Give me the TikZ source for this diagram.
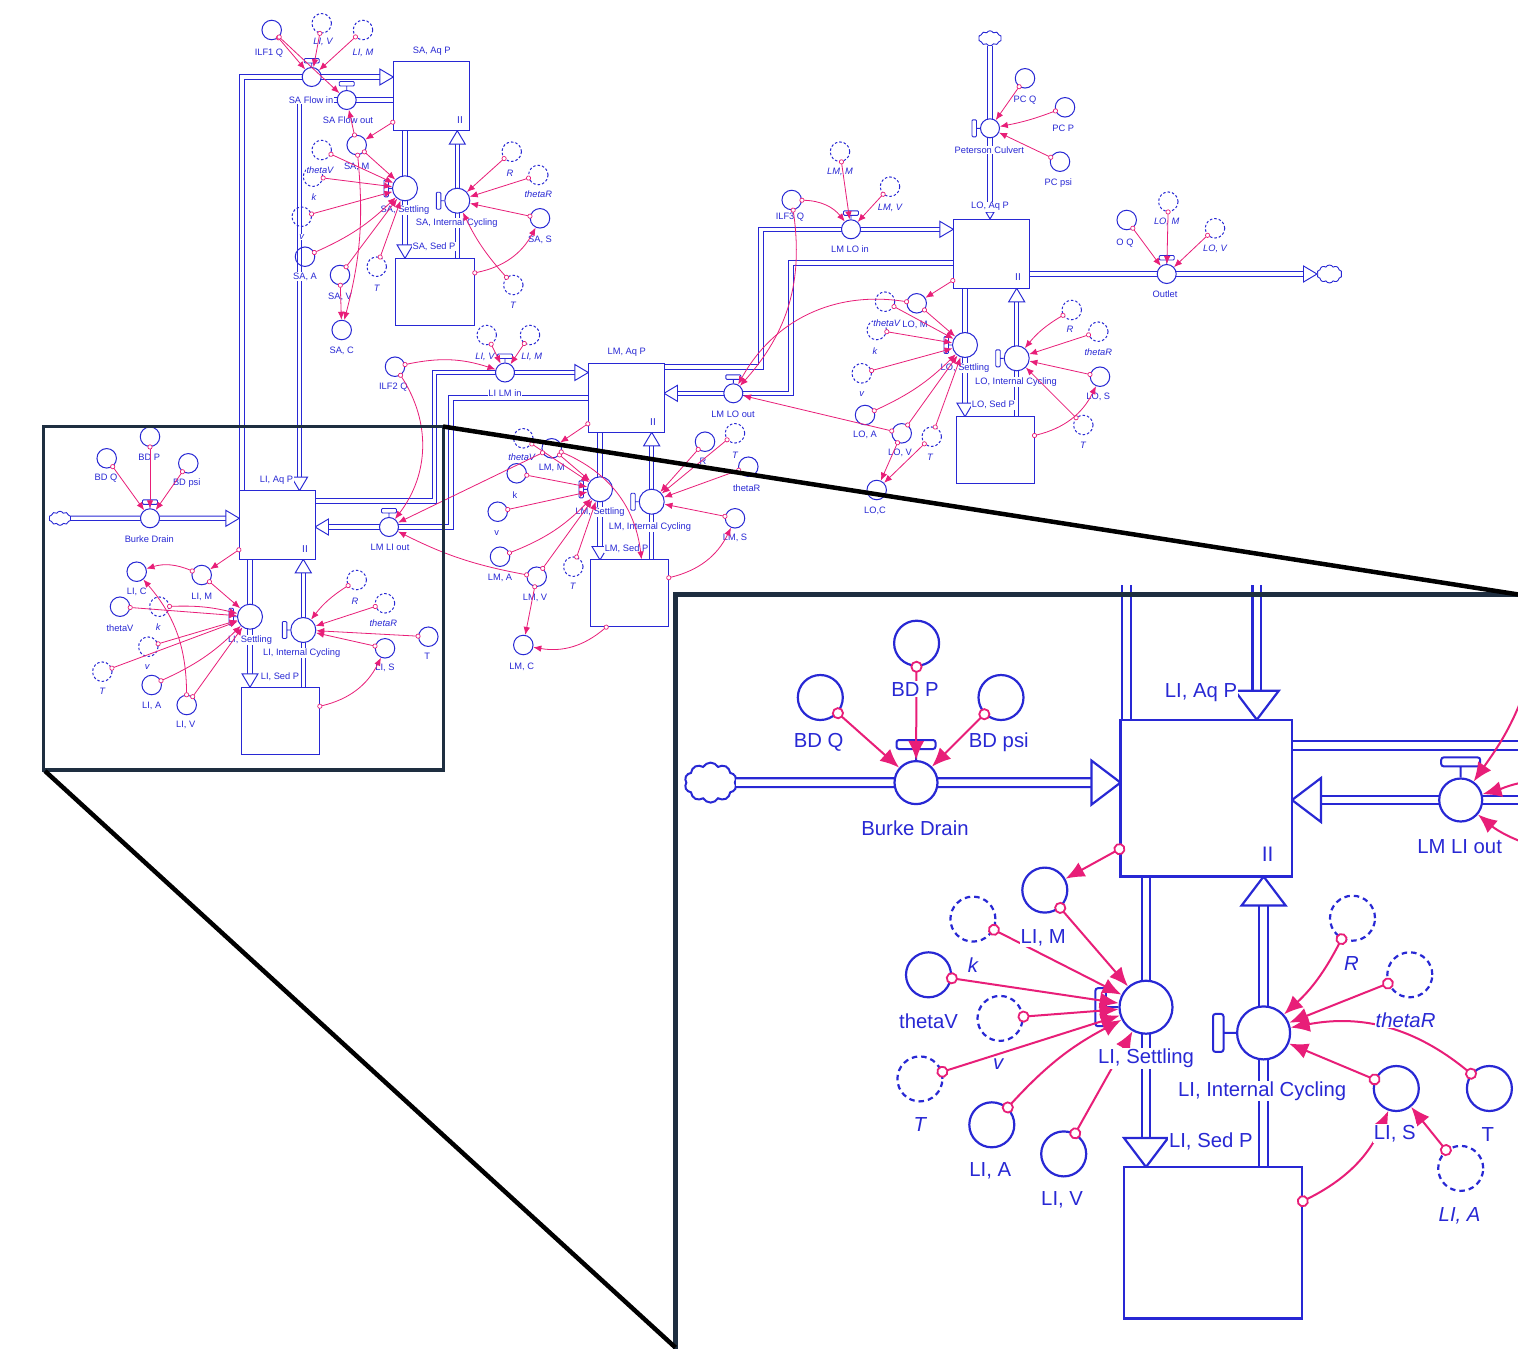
\documentclass[tikz,border=0pt]{standalone}
\usepackage{fontspec}
\setmainfont{Liberation Sans}
\usetikzlibrary{arrows.meta,shapes.symbols}
\definecolor{bl}{RGB}{40,40,212}
\definecolor{pk}{RGB}{232,30,120}
\definecolor{nv}{RGB}{30,46,64}
\newcommand\mkA[4]{\node[#1] (#2) at (#3,-#4) {};}
\newcommand\mkT[5]{\node[#1] (#2) at (#3,-#4) {#5};}
\newcommand\hTop[1]{\draw[hdl] (#1.north) -- ++(0,4) ++(-7.5,0) rectangle ++(15,4.5);}
\newcommand\hLeft[1]{\draw[hdl] (#1.west) -- ++(-3.5,0) ++(0,-8.5) rectangle ++(-4.5,17);}
\newcommand\hTopI[1]{\draw[hdlI] (#1.north) -- ++(0,11) ++(-19.5,0) rectangle ++(39,9);}
\newcommand\hLeftI[1]{\draw[hdlI] (#1.west) -- ++(-12.5,0) ++(0,-19) rectangle ++(-10.5,38);}
\tikzset{
 aux/.style={circle,draw=bl,line width=1pt,minimum size=19.5pt,inner sep=0pt},
 shd/.style={aux,dash pattern=on 2.5pt off 2pt},
 vlv/.style={circle,draw=bl,fill=white,line width=1pt,minimum size=19pt,inner sep=0pt},
 vlvb/.style={vlv,minimum size=25pt},
 stk/.style={rectangle,draw=bl,fill=white,line width=1pt,inner sep=0pt},
 hdl/.style={draw=bl,fill=white,line width=0.9pt,rounded corners=1pt},
 cld/.style={cloud,cloud puffs=10,cloud puff arc=120,cloud ignores aspect,draw=bl,fill=white,line width=0.9pt,inner sep=0pt},
 lab/.style={text=bl,fill=white,inner sep=0.6pt,font=\fontsize{9.3}{10}\selectfont},
 labi/.style={lab,font=\fontsize{9.3}{10}\selectfont\itshape},
 twoi/.style={text=bl,inner sep=0pt,font=\fontsize{10}{10}\selectfont},
 lk/.style={draw=pk,line width=0.8pt,arrows={Circle[fill=white,length=5pt,width=5pt,line width=0.7pt]-Latex[length=8pt,width=6.5pt]},shorten <=-2.5pt},
 pipe/.style={draw=bl,double=white,double distance=3.3pt,line width=0.95pt,line join=miter},
 parr/.pic={\draw[bl,fill=white,line width=0.95pt,line join=miter] (0,0) -- (-13.5,8) -- (-13.5,-8) -- cycle;},
 auxI/.style={circle,draw=bl,line width=2.2pt,minimum size=45pt,inner sep=0pt},
 shdI/.style={auxI,dash pattern=on 5.5pt off 4pt},
 vlvI/.style={circle,draw=bl,fill=white,line width=2.2pt,minimum size=43pt,inner sep=0pt},
 vlvbI/.style={vlvI,minimum size=53pt},
 stkI/.style={rectangle,draw=bl,fill=white,line width=2.2pt,inner sep=0pt},
 hdlI/.style={draw=bl,fill=white,line width=2pt,rounded corners=2.5pt},
 cldI/.style={cloud,cloud puffs=10,cloud puff arc=120,cloud ignores aspect,draw=bl,fill=white,line width=2pt,inner sep=0pt,minimum width=52pt,minimum height=40pt},
 labI/.style={text=bl,fill=white,inner sep=1pt,font=\fontsize{20.3}{22}\selectfont},
 labiI/.style={labI,font=\fontsize{20.3}{22}\selectfont\itshape},
 twoiI/.style={text=bl,inner sep=0pt,font=\fontsize{21}{21}\selectfont},
 lkI/.style={draw=pk,line width=2pt,arrows={Circle[fill=white,length=12pt,width=12pt,line width=1.8pt]-Latex[length=19pt,width=16pt]},shorten <=-6pt},
 lkIn/.style={draw=pk,line width=2pt,arrows={-Latex[length=19pt,width=16pt]}},
 pipeI/.style={draw=bl,double=white,double distance=6.5pt,line width=2.2pt,line join=miter},
 parrI/.pic={\draw[bl,fill=white,line width=2.2pt,line join=miter] (0,0) -- (-29,22) -- (-29,-22) -- cycle;},
}
\begin{document}
\begin{tikzpicture}[x=1pt,y=1pt]
\useasboundingbox (0,0) rectangle (1518,-1349);
\fill[white] (0,0) rectangle (1518,-1349);
\clip (0,0) rectangle (1518,-1349);

% ================= MAIN DIAGRAM =================
\node[cld,minimum width=22pt,minimum height=14pt] (cl1) at (60,-518.3) {};
\node[cld,minimum width=23pt,minimum height=15pt] (cl2) at (990,-38.3) {};
\node[cld,minimum width=25pt,minimum height=18pt] (cl3) at (1329.5,-274) {};

\draw[pipe] (cl1.east) -- (225.8,-518.3);
\pic at (239.3,-518.3) {parr};
\draw[pipe] (242,-490.7) -- (242,-77) -- (379.8,-77);
\pic at (393.3,-77) {parr};
\draw[pipe] (393.3,-100) -- (299.5,-100) -- (299.5,-477.2);
\pic[rotate=-90] at (299.5,-490.7) {parr};
\draw[pipe] (315,-501) -- (434.5,-501) -- (434.5,-372.5) -- (574.8,-372.5);
\pic at (588.3,-372.5) {parr};
\draw[pipe] (588.3,-398) -- (451,-398) -- (451,-527) -- (328.5,-527);
\pic[rotate=180] at (315,-527) {parr};
\draw[pipe] (664,-367) -- (761,-367) -- (761,-229.3) -- (939.8,-229.3);
\pic at (953.3,-229.3) {parr};
\draw[pipe] (953.3,-263) -- (791,-263) -- (791,-393.3) -- (677.5,-393.3);
\pic[rotate=180] at (664,-393.3) {parr};
\draw[pipe] (405,-130.7) -- (405,-244.8);
\pic[rotate=-90] at (405,-258.3) {parr};
\draw[pipe] (600,-432.3) -- (600,-546.5);
\pic[rotate=-90] at (600,-560) {parr};
\draw[pipe] (965,-288.3) -- (965,-403.2);
\pic[rotate=-90] at (965,-416.7) {parr};
\draw[pipe] (250,-559.3) -- (250,-673.8);
\pic[rotate=-90] at (250,-687.3) {parr};
\draw[pipe] (457.3,-258.3) -- (457.3,-144.2);
\pic[rotate=90] at (457.3,-130.7) {parr};
\draw[pipe] (651.7,-560) -- (651.7,-445.8);
\pic[rotate=90] at (651.7,-432.3) {parr};
\draw[pipe] (1016.7,-416.7) -- (1016.7,-301.8);
\pic[rotate=90] at (1016.7,-288.3) {parr};
\draw[pipe] (303.3,-687.3) -- (303.3,-572.8);
\pic[rotate=90] at (303.3,-559.3) {parr};
\draw[pipe] (cl2.south) -- (990,-212.5);
\pic[rotate=-90,scale=0.5] at (990,-219) {parr};
\draw[pipe] (1029.3,-274) -- (1303.5,-274);
\pic at (1317,-274) {parr};

\node[stk,minimum width=76pt,minimum height=69pt] (saAq) at (431.3,-96.2) {};
\node[stk,minimum width=78.6pt,minimum height=66.7pt] (saSed) at (435,-291.7) {};
\node[stk,minimum width=75.7pt,minimum height=69pt] (lmAq) at (626.2,-397.8) {};
\node[stk,minimum width=77.6pt,minimum height=66.7pt] (lmSed) at (629.5,-593.3) {};
\node[stk,minimum width=76pt,minimum height=69.3pt] (loAq) at (991.3,-253.7) {};
\node[stk,minimum width=78pt,minimum height=66.6pt] (loSed) at (995,-450) {};
\node[stk,minimum width=75.7pt,minimum height=68.6pt] (liAq) at (277.2,-525) {};
\node[stk,minimum width=78.3pt,minimum height=66.7pt] (liSed) at (280.2,-720.7) {};
\mkT{twoi}{saII}{460}{120}{II}
\mkT{twoi}{lmII}{653}{421.7}{II}
\mkT{twoi}{loII}{1018}{276.7}{II}
\mkT{twoi}{liII}{305}{549.3}{II}

\node[vlv] (saIn) at (311.7,-77) {}; \hTop{saIn}
\node[vlv] (saOut) at (346.7,-100) {}; \hTop{saOut}
\node[vlvb] (saSet) at (405,-188.3) {}; \hLeft{saSet}
\node[vlvb] (saIC) at (457.3,-200.7) {}; \hLeft{saIC}
\node[vlv] (lilmin) at (505,-372.5) {}; \hTop{lilmin}
\node[vlv] (lmloout) at (733.3,-393.3) {}; \hTop{lmloout}
\node[vlv] (lmliout) at (389,-527) {}; \hTop{lmliout}
\node[vlvb] (lmSet) at (600,-489.3) {}; \hLeft{lmSet}
\node[vlvb] (lmIC) at (651.7,-501.7) {}; \hLeft{lmIC}
\node[vlv] (lmloin) at (851,-229.3) {}; \hTop{lmloin}
\node[vlvb] (loSet) at (965,-345) {}; \hLeft{loSet}
\node[vlvb] (loIC) at (1016.7,-358.3) {}; \hLeft{loIC}
\node[vlv] (pc) at (990,-128.3) {}; \hLeft{pc}
\node[vlv] (outlet) at (1166.7,-274) {}; \hTop{outlet}
\node[vlv] (bd) at (150,-518.3) {}; \hTop{bd}
\node[vlvb] (liSet) at (250,-616.7) {}; \hLeft{liSet}
\node[vlvb] (liIC) at (303.3,-630) {}; \hLeft{liIC}

\mkA{aux}{ilf1}{271.7}{30}
\mkA{shd}{saLIV}{321.7}{23.3}
\mkA{shd}{saLIM}{363}{30}
\mkA{aux}{saM}{356.7}{145}
\mkA{shd}{saThV}{321.7}{150}
\mkA{shd}{saK}{313}{176.7}
\mkA{shd}{saV}{301.7}{216.7}
\mkA{aux}{saA}{305}{256.7}
\mkA{aux}{saVv}{340}{275}
\mkA{aux}{saC}{341.7}{330}
\mkA{shd}{saT}{376.7}{266.7}
\mkA{shd}{saR}{511.7}{151.7}
\mkA{shd}{saThR}{538.3}{175}
\mkA{aux}{saS}{540}{218.3}
\mkA{shd}{saT2}{513.3}{285}
\mkA{aux}{ilf2}{395}{366.7}
\mkA{shd}{lmLIV}{486.7}{335}
\mkA{shd}{lmLIM}{530}{335}
\mkA{shd}{lmThV}{523.3}{438.3}
\mkA{aux}{lmM}{551.7}{448.3}
\mkA{aux}{lmK}{516.7}{473.3}
\mkA{aux}{lmV}{497.7}{511.7}
\mkA{aux}{lmA}{500}{556.7}
\mkA{aux}{lmVv}{536.7}{576.7}
\mkA{aux}{lmC}{523.3}{645}
\mkA{shd}{lmT}{573.3}{566.7}
\mkA{aux}{lmR}{705}{441.7}
\mkA{shd}{lmT2}{735}{433.3}
\mkA{aux}{lmThR}{748.3}{466.7}
\mkA{aux}{lmS}{735}{518.3}
\mkA{shd}{loLMM}{840}{151.7}
\mkA{aux}{ilf3}{791.7}{200}
\mkA{shd}{loLMV}{890}{186.7}
\mkA{aux}{loM}{916.7}{303.3}
\mkA{shd}{loThV}{885}{301.7}
\mkA{shd}{loK}{876.7}{330}
\mkA{shd}{loV}{861.7}{373.3}
\mkA{aux}{loA}{865}{415}
\mkA{aux}{loVv}{901.7}{433.3}
\mkA{shd}{loT}{931.7}{436.7}
\mkA{aux}{loC}{876.7}{490}
\mkA{shd}{loR}{1071.7}{310}
\mkA{shd}{loThR}{1098.3}{331.7}
\mkA{aux}{loS}{1100}{376.7}
\mkA{shd}{loT2}{1083.3}{425}
\mkA{aux}{pcQ}{1025}{78.3}
\mkA{aux}{pcP}{1065}{107.3}
\mkA{aux}{pcPsi}{1060}{161.7}
\mkA{aux}{oQ}{1126.7}{220}
\mkA{shd}{oLOM}{1168.3}{201.7}
\mkA{shd}{oLOV}{1215}{228.3}
\mkA{aux}{bdQ}{106.7}{458.3}
\mkA{aux}{bdP}{150}{436.7}
\mkA{aux}{bdPsi}{188.3}{463.3}
\mkA{aux}{liC}{136.7}{571.7}
\mkA{aux}{liM}{201.7}{575}
\mkA{aux}{liThV}{120}{606.7}
\mkA{shd}{liK}{159.3}{606.7}
\mkA{shd}{liV}{148.3}{646.7}
\mkA{shd}{liT}{102.3}{671.7}
\mkA{aux}{liA}{151.7}{685}
\mkA{aux}{liVv}{186.7}{705}
\mkA{shd}{liR}{356.7}{580}
\mkA{shd}{liThR}{385}{603.3}
\mkA{aux}{liT2}{428.3}{636.7}
\mkA{aux}{liS}{385}{648.3}

\mkT{lab}{ilf1t}{269}{52.7}{ILF1 Q}
\mkT{labi}{saLIVt}{323}{41.7}{LI, V}
\mkT{labi}{saLIMt}{363}{52.7}{LI, M}
\mkT{lab}{saMt}{356.7}{166.7}{SA, M}
\mkT{labi}{saThVt}{320}{170}{thetaV}
\mkT{labi}{saKt}{314}{197}{k}
\mkT{labi}{saVt}{301.7}{236.7}{v}
\mkT{lab}{saAt}{305}{276.7}{SA, A}
\mkT{lab}{saVvt}{340}{296.7}{SA, V}
\mkT{lab}{saCt}{341.7}{351}{SA, C}
\mkT{labi}{saTt}{376.7}{288}{T}
\mkT{labi}{saRt}{510}{173}{R}
\mkT{labi}{saThRt}{538.3}{194}{thetaR}
\mkT{lab}{saSt}{540}{240}{SA, S}
\mkT{labi}{saT2t}{513}{305}{T}
\mkT{lab}{saAqt}{431.7}{51}{SA, Aq P}
\mkT{lab}{saSedt}{434}{246.7}{SA, Sed P}
\mkT{lab}{saInt}{311}{100}{SA Flow in}
\mkT{lab}{saOutt}{348}{120}{SA Flow out}
\mkT{lab}{saSett}{405}{210}{SA, Settling}
\mkT{lab}{saICt}{456.7}{223.3}{SA, Internal Cycling}
\mkT{lab}{ilf2t}{393.3}{386.7}{ILF2 Q}
\mkT{labi}{lmLIVt}{485}{356.7}{LI, V}
\mkT{labi}{lmLIMt}{531.7}{356.7}{LI, M}
\mkT{labi}{lmThVt}{521.7}{457.3}{thetaV}
\mkT{lab}{lmMt}{551.7}{468.3}{LM, M}
\mkT{lab}{lmKt}{515}{495}{k}
\mkT{lab}{lmVt}{496.7}{532.7}{v}
\mkT{lab}{lmAt}{500}{578.3}{LM, A}
\mkT{lab}{lmVvt}{535}{598.3}{LM, V}
\mkT{lab}{lmCt}{521.7}{666.7}{LM, C}
\mkT{labi}{lmTt}{572.7}{586.7}{T}
\mkT{lab}{lmRt}{703}{461.7}{R}
\mkT{labi}{lmT2t}{735}{455}{T}
\mkT{lab}{lmThRt}{746.7}{488.3}{thetaR}
\mkT{lab}{lmSt}{735}{538.3}{LM, S}
\mkT{lab}{lmAqt}{626.7}{352.3}{LM, Aq P}
\mkT{lab}{lmSedt}{626.5}{548.3}{LM, Sed P}
\mkT{lab}{lilmint}{505}{393.3}{LI LM in}
\mkT{lab}{lmlooutt}{733}{414}{LM LO out}
\mkT{lab}{lmlioutt}{390}{547.7}{LM LI out}
\mkT{lab}{lmSett}{600}{511.7}{LM, Settling}
\mkT{lab}{lmICt}{650}{526.7}{LM, Internal Cycling}
\mkT{labi}{loLMMt}{840}{172.3}{LM, M}
\mkT{lab}{ilf3t}{790}{216.7}{ILF3 Q}
\mkT{labi}{loLMVt}{890}{207.7}{LM, V}
\mkT{lab}{loMt}{915}{325}{LO, M}
\mkT{labi}{loThVt}{886.7}{322.7}{thetaV}
\mkT{labi}{loKt}{875}{350.7}{k}
\mkT{labi}{loVt}{861.7}{394.3}{v}
\mkT{lab}{loAt}{865}{435}{LO, A}
\mkT{lab}{loVvt}{900}{453.3}{LO, V}
\mkT{labi}{loTt}{930}{457.3}{T}
\mkT{lab}{loCt}{875}{511}{LO,C}
\mkT{labi}{loRt}{1070}{329.3}{R}
\mkT{labi}{loThRt}{1098.3}{351.7}{thetaR}
\mkT{lab}{loSt}{1098.3}{396.7}{LO, S}
\mkT{labi}{loT2t}{1083}{445}{T}
\mkT{lab}{pcQt}{1025}{100}{PC Q}
\mkT{lab}{pcPt}{1063.3}{128.3}{PC P}
\mkT{lab}{pcPsit}{1058.3}{182.7}{PC psi}
\mkT{lab}{oQt}{1125}{242.7}{O Q}
\mkT{labi}{oLOMt}{1166.7}{221.7}{LO, M}
\mkT{labi}{oLOVt}{1215}{249.3}{LO, V}
\mkT{lab}{loAqt}{990}{206.7}{LO, Aq P}
\mkT{lab}{loSedt}{993.3}{405}{LO, Sed P}
\mkT{lab}{lmloint}{850}{249.3}{LM LO in}
\mkT{lab}{loSett}{965}{368.3}{LO, Settling}
\mkT{lab}{loICt}{1016}{381.7}{LO, Internal Cycling}
\mkT{lab}{pct}{989.3}{150}{Peterson Culvert}
\mkT{lab}{outlett}{1165}{294}{Outlet}
\mkT{lab}{bdQt}{106}{477.7}{BD Q}
\mkT{lab}{bdPt}{149.3}{457.3}{BD P}
\mkT{lab}{bdPsit}{186.7}{483.3}{BD psi}
\mkT{lab}{liCt}{136.7}{591.7}{LI, C}
\mkT{lab}{liMt}{201.7}{596.7}{LI, M}
\mkT{lab}{liThVt}{120}{628.3}{thetaV}
\mkT{labi}{liKt}{158.3}{626.7}{k}
\mkT{labi}{liVt}{147.3}{666.7}{v}
\mkT{labi}{liTt}{102.3}{691.7}{T}
\mkT{lab}{liAt}{151.7}{706}{LI, A}
\mkT{lab}{liVvt}{185.7}{725}{LI, V}
\mkT{labi}{liRt}{355}{601}{R}
\mkT{labi}{liThRt}{383.3}{623.3}{thetaR}
\mkT{lab}{liT2t}{427.3}{656.7}{T}
\mkT{lab}{liSt}{385}{668.3}{LI, S}
\mkT{lab}{liAqt}{276.5}{480}{LI, Aq P}
\mkT{lab}{liSedt}{280}{676.7}{LI, Sed P}
\mkT{lab}{bdt}{149.3}{538.7}{Burke Drain}
\mkT{lab}{liSett}{250}{640}{LI, Settling}
\mkT{lab}{liICt}{301.7}{653.3}{LI, Internal Cycling}

\draw[lk] (ilf1) -- (saIn);
\draw[lk] (saLIV) -- (saIn);
\draw[lk] (saLIM) -- (saIn);
\draw[lk] (ilf1) -- (saOut);
\draw[lk] (saM) -- (saOut);
\draw[lk] ([yshift=9pt]saAq.south west) -- (saM);
\draw[lk] (saM) -- (saSet);
\draw[lk] (saThV) -- (saSet);
\draw[lk] (saK) -- (saSet);
\draw[lk] (saV) -- (saSet);
\draw[lk] (saA) to[bend right=10] (saSet);
\draw[lk] (saVv) -- (saSet);
\draw[lk] (saT) -- (saSet);
\draw[lk] (saVv) -- (saC);
\draw[lk] (saM) to[bend left=10] (saC);
\draw[lk] (saR) -- (saIC);
\draw[lk] (saThR) -- (saIC);
\draw[lk] (saS) -- (saIC);
\draw[lk] (saT2) to[bend left=8] (saIC);
\draw[lk] ([yshift=-15pt]saSed.north east) to[bend right=25] (saS);
\draw[lk] (ilf2) to[bend left=15] (lilmin);
\draw[lk] (lmLIV) -- (lilmin);
\draw[lk] (lmLIM) -- (lilmin);
\draw[lk] (ilf2) to[bend left=35] (lmliout);
\draw[lk] ([yshift=9pt]lmAq.south west) -- (lmM);
\draw[lk] (lmM) -- (lmSet);
\draw[lk] (lmThV) -- (lmSet);
\draw[lk] (lmK) -- (lmSet);
\draw[lk] (lmV) -- (lmSet);
\draw[lk] (lmA) to[bend right=12] (lmSet);
\draw[lk] (lmVv) -- (lmSet);
\draw[lk] (lmT) -- (lmSet);
\draw[lk] (lmM) -- (lmliout);
\draw[lk] (lmVv) to[bend left=8] (lmliout);
\draw[lk] (lmVv) -- (lmC);
\draw[lk] ([xshift=16pt]lmSed.south west) to[bend left=25] (lmC);
\draw[lk] (lmM) to[bend left=30] ([xshift=12pt]lmSed.north);
\draw[lk] (lmR) -- (lmIC);
\draw[lk] (lmT2) -- (lmIC);
\draw[lk] (lmThR) -- (lmIC);
\draw[lk] (lmS) -- (lmIC);
\draw[lk] ([yshift=-18.3pt]lmSed.north east) to[bend right=25] (lmS);
\draw[lk] (loLMM) -- (lmloin);
\draw[lk] (loLMV) -- (lmloin);
\draw[lk] (ilf3) to[bend left=25] (lmloin);
\draw[lk] (ilf3) to[bend left=25] (lmloout);
\draw[lk] (loM) to[bend right=35] (lmloout);
\draw[lk] (loVv) -- (lmloout);
\draw[lk] ([yshift=8.3pt]loAq.south west) -- (loM);
\draw[lk] (loM) -- (loSet);
\draw[lk] (loThV) -- (loSet);
\draw[lk] (loK) -- (loSet);
\draw[lk] (loV) -- (loSet);
\draw[lk] (loA) to[bend right=10] (loSet);
\draw[lk] (loVv) -- (loSet);
\draw[lk] (loT) -- (loSet);
\draw[lk] (loVv) -- (loC);
\draw[lk] (loT) -- (loC);
\draw[lk] (loR) to[bend right=10] (loIC);
\draw[lk] (loThR) -- (loIC);
\draw[lk] (loS) -- (loIC);
\draw[lk] (loT2) -- (loIC);
\draw[lk] ([yshift=-19.3pt]loSed.north east) to[bend right=25] (loS);
\draw[lk] (pcQ) -- (pc);
\draw[lk] (pcP) to[bend left=5] (pc);
\draw[lk] (pcPsi) -- (pc);
\draw[lk] (oQ) -- (outlet);
\draw[lk] (oLOM) -- (outlet);
\draw[lk] (oLOV) -- (outlet);
\draw[lk] (bdQ) -- (bd);
\draw[lk] (bdP) -- (bd);
\draw[lk] (bdPsi) -- (bd);
\draw[lk] ([yshift=10pt]liAq.south west) -- (liM);
\draw[lk] (liM) to[bend right=20] (liC);
\draw[lk] (liVv) to[bend right=20] (liC);
\draw[lk] (liM) -- (liSet);
\draw[lk] (liThV) -- (liSet);
\draw[lk] (liK) to[bend left=8] (liSet);
\draw[lk] (liV) -- (liSet);
\draw[lk] (liT) -- (liSet);
\draw[lk] (liA) to[bend right=10] (liSet);
\draw[lk] (liVv) -- (liSet);
\draw[lk] (liR) to[bend right=10] (liIC);
\draw[lk] (liThR) -- (liIC);
\draw[lk] (liT2) -- (liIC);
\draw[lk] (liS) -- (liIC);
\draw[lk] ([yshift=-19.4pt]liSed.north east) to[bend right=25] (liS);

% ================= INSET =================
\node[cldI] (cl4) at (710.6,-782.6) {};
\draw[pipeI] (cl4.east) -- (1091.5,-782.6);
\pic at (1120.5,-782.6) {parrI};
\draw[pipeI] (1126.4,-585) -- (1126.4,-719.7);
\draw[pipeI] (1256.8,-585) -- (1256.8,-690.7);
\pic[rotate=-90] at (1256.8,-719.7) {parrI};
\draw[pipeI] (1292,-745.5) -- (1530,-745.5);
\draw[pipeI] (1530,-800) -- (1321,-800);
\pic[rotate=180] at (1292,-800) {parrI};
\draw[pipeI] (1146,-876.5) -- (1146,-1138);
\pic[rotate=-90] at (1146,-1167) {parrI};
\draw[pipeI] (1263.6,-1167) -- (1263.6,-905.5);
\pic[rotate=90] at (1263.6,-876.5) {parrI};

\node[stkI,minimum width=171.5pt,minimum height=156.8pt] (liAqI) at (1206.25,-798.1) {};
\node[stkI,minimum width=177.4pt,minimum height=151.5pt] (liSedI) at (1213,-1242.75) {};
\mkT{twoiI}{liIII}{1267.6}{853.8}{II}

\node[vlvI] (bdI) at (916,-782.6) {}; \hTopI{bdI}
\node[vlvI] (lmlioutI) at (1460.7,-800) {}; \hTopI{lmlioutI}
\node[vlvbI] (liSetI) at (1146,-1007.2) {}; \hLeftI{liSetI}
\node[vlvbI] (liICI) at (1263.6,-1032.9) {}; \hLeftI{liICI}

\mkA{auxI}{bdQI}{820.3}{697.5}
\mkA{auxI}{bdPI}{916.6}{643.2}
\mkA{auxI}{bdPsiI}{1001}{697.5}
\mkA{auxI}{liMI}{1044.8}{890.1}
\mkA{shdI}{kI}{972.9}{919.1}
\mkA{auxI}{thVI}{928.5}{974.8}
\mkA{shdI}{vI}{1000}{1018.4}
\mkA{shdI}{TI}{919.9}{1078.9}
\mkA{auxI}{liAI}{991.8}{1124.8}
\mkA{auxI}{liVI}{1063.7}{1153.9}
\mkA{shdI}{RI}{1352.5}{918.2}
\mkA{shdI}{thRI}{1409.8}{974.8}
\mkA{auxI}{T2I}{1489.4}{1088.5}
\mkA{auxI}{liSI}{1396.3}{1088.5}
\mkA{shdI}{liA2I}{1460.7}{1168.4}

\coordinate (xa) at (1525,-690);
\coordinate (xb) at (1525,-782);
\coordinate (xc) at (1525,-843);
\draw[lkIn] (xa) to[out=-110,in=55] (lmlioutI);
\draw[lkIn] (xb) to[out=190,in=15] (lmlioutI);
\draw[lkIn] (xc) to[out=160,in=-40] (lmlioutI);

\draw[lkI] (bdQI) -- (bdI);
\draw[lkI] (bdPI) -- (bdI);
\draw[lkI] (bdPsiI) -- (bdI);
\draw[lkI] ([yshift=28.5pt]liAqI.south west) -- (liMI);
\draw[lkI] (liMI) -- (liSetI);
\draw[lkI] (kI) -- (liSetI);
\draw[lkI] (thVI) -- (liSetI);
\draw[lkI] (vI) -- (liSetI);
\draw[lkI] (TI) -- (liSetI);
\draw[lkI] (liAI) to[bend left=10] (liSetI);
\draw[lkI] (liVI) -- (liSetI);
\draw[lkI] (RI) to[bend left=10] (liICI);
\draw[lkI] (thRI) -- (liICI);
\draw[lkI] (T2I) to[bend right=25] (liICI);
\draw[lkI] (liSI) -- (liICI);
\draw[lkI] (liA2I) -- (liSI);
\draw[lkI] ([yshift=-35.3pt]liSedI.north east) to[bend right=20] (liSI);

\mkT{labI}{bdQIt}{818.7}{742.5}{BD Q}
\mkT{labI}{bdPIt}{915}{689.2}{BD P}
\mkT{labI}{bdPsiIt}{998.8}{742.5}{BD psi}
\mkT{labI}{liMIt}{1043.2}{937.5}{LI, M}
\mkT{labiI}{kIt}{972.9}{965.1}{k}
\mkT{labI}{thVIt}{928.5}{1020.8}{thetaV}
\mkT{labiI}{vIt}{998.3}{1064.3}{v}
\mkT{labiI}{TIt}{919.9}{1124.8}{T}
\mkT{labI}{liAIt}{990.2}{1170.8}{LI, A}
\mkT{labI}{liVIt}{1062.1}{1199.9}{LI, V}
\mkT{labiI}{RIt}{1351.5}{963.7}{R}
\mkT{labiI}{thRIt}{1405.5}{1019.8}{thetaR}
\mkT{labI}{T2It}{1487.7}{1134.5}{T}
\mkT{labI}{liSIt}{1394.7}{1133.6}{LI, S}
\mkT{labiI}{liA2It}{1459.6}{1215.8}{LI, A}
\mkT{labI}{liAqIt}{1201}{692.6}{LI, Aq P}
\mkT{labI}{bdIt}{915}{828.6}{Burke Drain}
\mkT{labI}{lmlioutIt}{1459.6}{846.5}{LM LI out}
\mkT{labI}{liSetIt}{1146}{1058.5}{LI, Settling}
\mkT{labI}{liSedIt}{1210.8}{1141.8}{LI, Sed P}
\mkT{labI}{liICIt}{1262.2}{1091}{LI, Internal Cycling}

% ================= ZOOM FRAME =================
\draw[nv,line width=3.3pt] (43.3,-426.7) rectangle (443.3,-770);
\draw[nv,line width=4.8pt] (1530,-594.5) -- (675.4,-594.5) -- (675.4,-1360);
\draw[black,line width=4.5pt] (443,-426.5) -- (1530,-596.3);
\draw[black,line width=4.5pt] (45,-771) -- (675.4,-1347.5);
\end{tikzpicture}
\end{document}
